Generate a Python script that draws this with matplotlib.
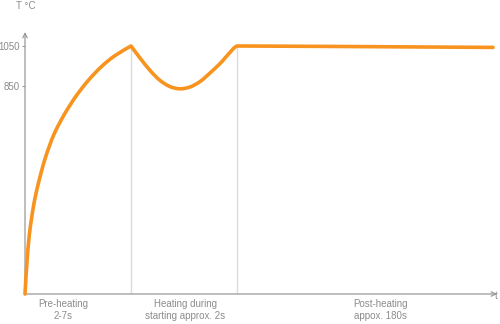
import numpy as np
import matplotlib
matplotlib.use("Agg")
import matplotlib.pyplot as plt
from matplotlib.path import Path
from matplotlib.patches import PathPatch

# temperature curve (x in arbitrary time units)
t_pre = [0, 0.8, 2, 4.3, 8.7, 13.7, 20.3, 28.7, 39, 51, 63.3, 76.7, 90, 106]
T_pre = [-190, -120, -30, 105, 255, 370, 490, 605, 705, 799, 878, 948, 1002, 1050]

t_heat = [106, 115, 125, 135, 145, 155, 165, 175, 185, 195, 200, 205, 209, 212]
T_heat = [1050, 990, 928, 878, 847, 836, 845, 872, 915, 962, 990, 1018, 1040, 1050]

t_post = [212, 300, 400, 468]
T_post = [1050, 1048, 1045, 1043]

phase_edges = [106, 212]
phase_labels = ["Pre-heating\n2-7s", "Heating during\nstarting approx. 2s", "Post-heating\nappox. 180s"]
label_x = [38, 160, 355]
yticks = [850, 1050]

orange = "#f7931e"
grey = "#8c8c8c"
plt.rcParams['font.family'] = ['Liberation Sans', 'DejaVu Sans']


def smooth(xs, ys, start=True):
    # catmull-rom through the points, drawn as bezier segments
    p = np.column_stack([xs, ys]).astype(float)
    pp = np.vstack([p[0], p, p[-1]])
    verts, codes = [], []
    if start:
        verts.append(p[0]); codes.append(Path.MOVETO)
    for i in range(1, len(pp) - 2):
        c1 = pp[i] + (pp[i + 1] - pp[i - 1]) / 6
        c2 = pp[i + 1] - (pp[i + 2] - pp[i]) / 6
        verts += [c1, c2, pp[i + 1]]
        codes += [Path.CURVE4] * 3
    return verts, codes


fig = plt.figure(figsize=(5, 3.24), dpi=100)
ax = fig.add_axes([25/500, 30/324, 472/500, 262/324])
ax.set_xlim(0, 472)
ax.set_ylim(-190, 1120)
for s in ax.spines.values():
    s.set_visible(False)

# axes with arrows
for tip in [(0, 1), (1, 0)]:
    ax.annotate("", xy=tip, xytext=(0, 0), xycoords="axes fraction",
                arrowprops=dict(arrowstyle="->", color="#9a9a9a", lw=0.9, shrinkA=0, shrinkB=0,
                                mutation_scale=8))

for e in phase_edges:
    ax.plot([e, e], [-190, 1050], color="#dcdcdc", lw=1, zorder=1)

v1, c1 = smooth(t_pre, T_pre)
v2, c2 = smooth(t_heat, T_heat, start=False)
v3, c3 = smooth(t_post, T_post, start=False)
curve = Path(v1 + v2 + v3, c1 + c2 + c3)
ax.add_patch(PathPatch(curve, fill=False, edgecolor=orange, lw=2.6, capstyle="round",
                       joinstyle="round", zorder=3, clip_on=False))

ax.set_xticks([])
ax.set_yticks(yticks)
ax.set_yticklabels([str(v) for v in yticks])
ax.tick_params(axis="y", length=2.5, width=0.8, color="#9a9a9a", pad=1,
               labelsize=7, labelcolor=grey)

tr = ax.get_xaxis_transform()
for x, lab in zip(label_x, phase_labels):
    ax.text(x, -0.018, lab, transform=tr, ha="center", va="top", fontsize=7,
            color=grey, linespacing=1.25)
ax.text(471, -0.008, "t", transform=tr, ha="center", va="center", fontsize=7, color=grey)
ax.text(1, 1.088, "T °C", transform=tr, ha="center", va="baseline", fontsize=7, color=grey)

fig.savefig("out.png", dpi=100)
